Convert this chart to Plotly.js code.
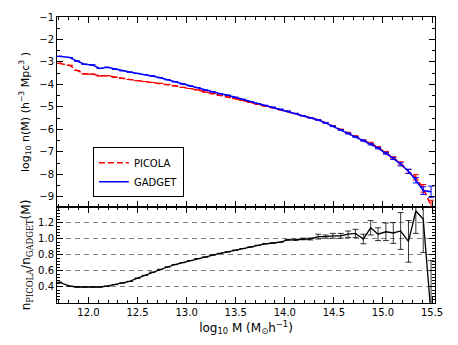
<!DOCTYPE html>
<html>
<head>
<meta charset="utf-8">
<script src="https://cdn.plot.ly/plotly-3.0.1.min.js"></script>
<style>
  body { margin: 0; background: #fff; }
  #chart { width: 458px; height: 345px; }
</style>
</head>
<body>
<div id="chart"></div>
<script>
// mass bins, log10 M
const logM = [11.70, 11.81, 11.885, 11.96, 12.04, 12.115, 12.19, 12.27, 12.345, 12.42,
              12.50, 12.575, 12.65, 12.73, 12.805, 12.88, 12.96, 13.035, 13.11, 13.19,
              13.265, 13.34, 13.42, 13.495, 13.57, 13.65, 13.725, 13.80, 13.88, 13.955,
              14.03, 14.11, 14.185, 14.26, 14.34, 14.415, 14.49, 14.57, 14.645, 14.72,
              14.80, 14.875, 14.95, 15.03, 15.105, 15.18, 15.26, 15.335, 15.41, 15.49];

const gadgetN = [-2.75, -2.80, -2.96, -3.10, -3.13, -3.29, -3.24, -3.32, -3.39, -3.45,
                 -3.51, -3.56, -3.62, -3.70, -3.79, -3.88, -3.98, -4.06, -4.14, -4.25,
                 -4.33, -4.41, -4.48, -4.57, -4.66, -4.76, -4.85, -4.93, -5.01, -5.10,
                 -5.19, -5.29, -5.39, -5.48, -5.58, -5.71, -5.86, -6.02, -6.18, -6.33,
                 -6.49, -6.66, -6.83, -7.06, -7.29, -7.55, -7.86, -8.26, -8.72, -8.77];

const picolaN = [-3.06, -3.15, -3.38, -3.53, -3.54, -3.62, -3.61, -3.68, -3.73, -3.78,
                 -3.83, -3.87, -3.91, -3.95, -4.00, -4.06, -4.13, -4.18, -4.24, -4.34,
                 -4.41, -4.49, -4.55, -4.63, -4.71, -4.80, -4.88, -4.96, -5.03, -5.12,
                 -5.19, -5.29, -5.39, -5.48, -5.57, -5.70, -5.84, -6.00, -6.15, -6.30,
                 -6.49, -6.60, -6.80, -7.02, -7.26, -7.51, -7.87, -8.13, -8.62, -9.40];

const nErr = [0, 0, 0, 0, 0, 0, 0, 0, 0, 0,
              0, 0, 0, 0, 0, 0, 0, 0, 0, 0,
              0, 0, 0, 0, 0, 0, 0, 0, 0, 0,
              0.005, 0.005, 0.01, 0.01, 0.01, 0.01, 0.015, 0.015, 0.02, 0.02,
              0.025, 0.03, 0.035, 0.04, 0.05, 0.07, 0.09, 0.12, 0.17, 0.25];

const ratio = [0.46, 0.41, 0.40, 0.40, 0.40, 0.40, 0.41, 0.43, 0.45, 0.47,
               0.51, 0.545, 0.585, 0.62, 0.65, 0.68, 0.705, 0.73, 0.755, 0.775,
               0.80, 0.82, 0.84, 0.86, 0.88, 0.90, 0.92, 0.94, 0.95, 0.96,
               0.99, 0.99, 1.00, 1.00, 1.03, 1.03, 1.04, 1.04, 1.06, 1.07,
               1.00, 1.14, 1.06, 1.09, 1.075, 1.10, 0.97, 1.35, 1.25, 0.05];

const ratioErr = [0, 0, 0, 0, 0, 0, 0, 0, 0, 0,
                  0, 0, 0, 0, 0, 0, 0, 0, 0, 0,
                  0, 0, 0, 0, 0, 0, 0, 0, 0, 0,
                  0.005, 0.008, 0.01, 0.012, 0.03, 0.02, 0.03, 0.03, 0.04, 0.05,
                  0.06, 0.09, 0.08, 0.11, 0.13, 0.23, 0.26, 0.28, 0.42, 0.68];

const ratioTicks = [0.4, 0.6, 0.8, 1.0, 1.2];

const font = 'DejaVu Sans, sans-serif';

const traces = [
    {
        x: logM, y: picolaN, xaxis: 'x2', yaxis: 'y2',
        type: 'scatter', mode: 'lines', name: 'PICOLA',
        line: { color: '#ff0000', width: 1.5, dash: '6px,3px' },
        error_y: { type: 'data', array: nErr, visible: true, color: '#ff0000', thickness: 1, width: 3 }
    },
    {
        x: logM, y: gadgetN, xaxis: 'x2', yaxis: 'y2',
        type: 'scatter', mode: 'lines', name: 'GADGET',
        line: { color: '#0000ff', width: 1.5 },
        error_y: { type: 'data', array: nErr, visible: true, color: '#0000ff', thickness: 1, width: 3 }
    },
    {
        x: logM, y: ratio, xaxis: 'x', yaxis: 'y',
        type: 'scatter', mode: 'lines', showlegend: false,
        line: { color: '#000000', width: 1.3 },
        error_y: { type: 'data', array: ratioErr, visible: true, color: '#000000', thickness: 0.8, width: 3 }
    }
];

const axisBase = {
    showline: true, linecolor: '#000', linewidth: 1, mirror: 'ticks',
    ticks: 'inside', ticklen: 6, tickcolor: '#000', tickwidth: 1,
    showgrid: false, zeroline: false,
    tickfont: { family: font, size: 10, color: '#000' }
};

const layout = {
    width: 458, height: 345,
    margin: { l: 57, r: 23, t: 17, b: 42 },
    paper_bgcolor: '#fff', plot_bgcolor: '#fff',
    font: { family: font, color: '#000' },
    showlegend: true,
    legend: {
        x: 0.095, y: 0.545, xanchor: 'left', yanchor: 'top',
        bgcolor: '#fff', bordercolor: '#000', borderwidth: 1,
        font: { family: font, size: 10 },
        itemwidth: 30, tracegroupgap: 0
    },
    xaxis: Object.assign({}, axisBase, {
        domain: [0, 1], anchor: 'y', range: [11.68, 15.53],
        tickvals: [12.0, 12.5, 13.0, 13.5, 14.0, 14.5, 15.0, 15.5],
        ticktext: ['12.0', '12.5', '13.0', '13.5', '14.0', '14.5', '15.0', '15.5'],
        minor: { dtick: 0.1, tick0: 0, ticks: 'inside', ticklen: 3, tickcolor: '#000' },
        title: { text: 'log<sub>10</sub> M (M<sub>⊙</sub>h<sup>−1</sup>)', font: { family: font, size: 12 }, standoff: 6 }
    }),
    yaxis: Object.assign({}, axisBase, {
        domain: [0, 0.3357], anchor: 'x', range: [0.2, 1.4],
        tickvals: ratioTicks, ticktext: ['0.4', '0.6', '0.8', '1.0', '1.2'],
        showgrid: true, gridcolor: '#808080', griddash: '5px,4px', gridwidth: 1,
        minor: { dtick: 0.04, tick0: 0.2, ticks: 'inside', ticklen: 3, tickcolor: '#000' },
        title: { text: 'n<sub><span style="font-family:DejaVu Serif">PICOLA</span></sub>/n<sub><span style="font-family:DejaVu Serif">GADGET</span></sub>(M)', font: { family: font, size: 12 }, standoff: 4 }
    }),
    xaxis2: Object.assign({}, axisBase, {
        domain: [0, 1], anchor: 'y2', matches: 'x', range: [11.68, 15.53],
        tickvals: [12.0, 12.5, 13.0, 13.5, 14.0, 14.5, 15.0, 15.5],
        showticklabels: false,
        minor: { dtick: 0.1, tick0: 0, ticks: 'inside', ticklen: 3, tickcolor: '#000' }
    }),
    yaxis2: Object.assign({}, axisBase, {
        domain: [0.3357, 1], anchor: 'x2', range: [-9.45, -1],
        dtick: 1, tick0: -1,
        minor: { dtick: 0.5, tick0: -1, ticks: 'inside', ticklen: 3, tickcolor: '#000' },
        title: { text: 'log<sub>10</sub> n(M) (h<sup>−3</sup> Mpc<sup>3</sup> )', font: { family: font, size: 11 }, standoff: 7 }
    })
};

Plotly.newPlot('chart', traces, layout, { displayModeBar: false, staticPlot: true });
</script>
</body>
</html>
